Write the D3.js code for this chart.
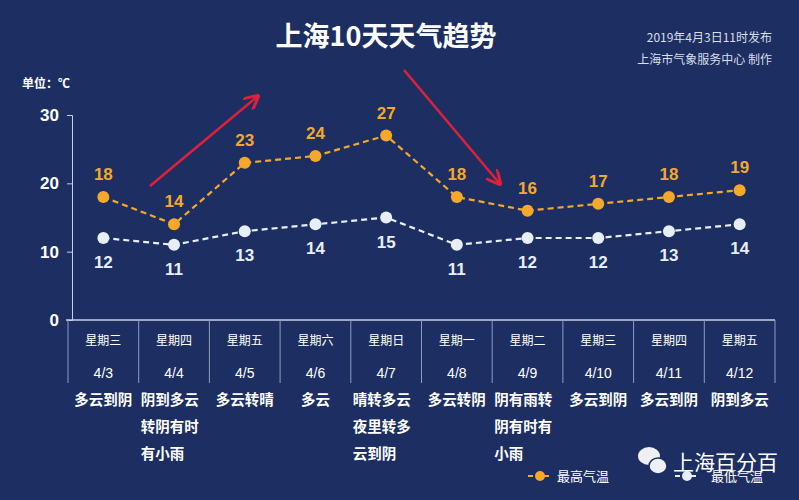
<!DOCTYPE html>
<html>
<head>
<meta charset="utf-8">
<script src="https://d3js.org/d3.v7.min.js"></script>
<style>body{margin:0;background:#1d2f62;font-family:"Noto Sans CJK SC",sans-serif;}</style>
</head>
<body>
<div id="chart"></div>
<script>
var dates = ["4/3","4/4","4/5","4/6","4/7","4/8","4/9","4/10","4/11","4/12"];
var weekdays = ["星期三","星期四","星期五","星期六","星期日","星期一","星期二","星期三","星期四","星期五"];
var weather = [["多云到阴"],["阴到多云","转阴有时","有小雨"],["多云转晴"],["多云"],["晴转多云","夜里转多","云到阴"],["多云转阴"],["阴有雨转","阴有时有","小雨"],["多云到阴"],["多云到阴"],["阴到多云"]];
var highs = [18,14,23,24,27,18,16,17,18,19];
var lows = [12,11,13,14,15,11,12,12,13,14];
var yTicks = [0,10,20,30];

var W = 799, H = 500;
var svg = d3.select("#chart").append("svg").attr("width", W).attr("height", H);
svg.append("rect").attr("width", W).attr("height", H).attr("fill", "#1d2f62");

var x = d3.scaleBand().domain(dates).range([68, 775]);
var y = d3.scaleLinear().domain([0, 30]).range([320, 115]);
var cx = function(d, i) { return x(dates[i]) + x.bandwidth() / 2; };
var orange = "#f5a82a", white = "#e8eef8";

// title
svg.append("text").attr("x", 386).attr("y", 46).attr("text-anchor", "middle")
  .attr("fill", "#fff").attr("font-size", 27).attr("font-weight", "bold").text("上海10天天气趋势");
svg.append("text").attr("x", 772).attr("y", 42).attr("text-anchor", "end").attr("fill", "#d8deea").attr("font-size", 12).text("2019年4月3日11时发布");
svg.append("text").attr("x", 772).attr("y", 64).attr("text-anchor", "end").attr("fill", "#d8deea").attr("font-size", 12).text("上海市气象服务中心  制作");
svg.append("text").attr("x", 22).attr("y", 88).attr("fill", "#fff").attr("font-size", 12).attr("font-weight", "bold").text("单位：℃");

// y axis
var ya = svg.append("g").attr("transform", "translate(72,0)")
  .call(d3.axisLeft(y).tickValues(yTicks).tickSize(5).tickPadding(8));
ya.select(".domain").attr("stroke", "#c8d0e4");
ya.selectAll("line").attr("stroke", "#c8d0e4");
ya.selectAll("text").attr("fill", "#fff").attr("font-size", 17).attr("font-weight", "bold").attr("font-family", "Liberation Sans");

// bottom table
svg.append("line").attr("x1", 66).attr("x2", 775).attr("y1", 320).attr("y2", 320).attr("stroke", "#c8d0e4").attr("stroke-width", 1.5);
svg.selectAll(".div").data(dates.concat(["end"])).enter().append("line")
  .attr("x1", function(d, i) { return i < dates.length ? x(d) : 775; })
  .attr("x2", function(d, i) { return i < dates.length ? x(d) : 775; })
  .attr("y1", 320).attr("y2", 383).attr("stroke", "#8f9cc0");
svg.selectAll(".wd").data(weekdays).enter().append("text")
  .attr("x", cx).attr("y", 345).attr("text-anchor", "middle").attr("fill", "#fff").attr("font-size", 12).text(function(d) { return d; });
svg.selectAll(".dt").data(dates).enter().append("text")
  .attr("x", cx).attr("y", 378).attr("text-anchor", "middle").attr("fill", "#fff").attr("font-size", 14).attr("font-family", "Liberation Sans").text(function(d) { return d; });
weather.forEach(function(lines, i) {
  lines.forEach(function(s, j) {
    var multi = lines.length > 1;
    svg.append("text").attr("x", multi ? x(dates[i]) + 2 : cx(null, i)).attr("y", 405 + j * 27)
      .attr("text-anchor", multi ? "start" : "middle")
      .attr("fill", "#fff").attr("font-size", 14.5).attr("font-weight", "bold").text(s);
  });
});

// arrows
var defs = svg.append("defs");
defs.append("marker").attr("id", "ah").attr("viewBox", "0 0 10 10").attr("refX", 9).attr("refY", 5)
  .attr("markerWidth", 6).attr("markerHeight", 6).attr("orient", "auto")
  .append("path").attr("d", "M0,0 L10,5 L0,10").attr("fill", "none").attr("stroke", "#e0203a").attr("stroke-width", 2);
svg.append("line").attr("x1", 150).attr("y1", 186).attr("x2", 258).attr("y2", 96)
  .attr("stroke", "#e0203a").attr("stroke-width", 2.5).attr("marker-end", "url(#ah)");
svg.append("line").attr("x1", 404).attr("y1", 70).attr("x2", 500).attr("y2", 184)
  .attr("stroke", "#e0203a").attr("stroke-width", 2.5).attr("marker-end", "url(#ah)");

// lines
function series(vals, col, above) {
  var line = d3.line().x(function(d, i) { return cx(d, i); }).y(function(d) { return y(d); });
  svg.append("path").datum(vals).attr("d", line).attr("fill", "none").attr("stroke", col)
    .attr("stroke-width", 2.2).attr("stroke-dasharray", "6,4");
  svg.selectAll(null).data(vals).enter().append("circle")
    .attr("cx", cx).attr("cy", function(d) { return y(d); }).attr("r", 6).attr("fill", col);
  svg.selectAll(null).data(vals).enter().append("text")
    .attr("x", cx).attr("y", function(d) { return above ? y(d) - 17 : y(d) + 30; })
    .attr("text-anchor", "middle").attr("fill", col).attr("font-size", 17).attr("font-weight", "bold")
    .attr("font-family", "Liberation Sans").text(function(d) { return d; });
}
series(highs, orange, true);
series(lows, white, false);

// legend
svg.append("line").attr("x1", 528).attr("x2", 552).attr("y1", 476).attr("y2", 476).attr("stroke", orange).attr("stroke-width", 2).attr("stroke-dasharray", "5,3");
svg.append("circle").attr("cx", 540).attr("cy", 476).attr("r", 5).attr("fill", orange);
svg.append("text").attr("x", 557).attr("y", 481).attr("fill", "#fff").attr("font-size", 13).text("最高气温");
svg.append("line").attr("x1", 675).attr("x2", 699).attr("y1", 476).attr("y2", 476).attr("stroke", white).attr("stroke-width", 2).attr("stroke-dasharray", "5,3");
svg.append("circle").attr("cx", 687).attr("cy", 476).attr("r", 5).attr("fill", white);
svg.append("text").attr("x", 711).attr("y", 481).attr("fill", "#fff").attr("font-size", 13).text("最低气温");

// watermark
var wm = svg.append("g");
wm.append("ellipse").attr("cx", 649).attr("cy", 456).attr("rx", 11).attr("ry", 9).attr("fill", "#eef0f6");
wm.append("ellipse").attr("cx", 658).attr("cy", 466).attr("rx", 9).attr("ry", 8).attr("fill", "#eef0f6").attr("stroke", "#1d2f62").attr("stroke-width", 1.5);
wm.append("text").attr("x", 673).attr("y", 470).attr("fill", "#fff").attr("font-size", 21).text("上海百分百");
</script>
</body>
</html>
